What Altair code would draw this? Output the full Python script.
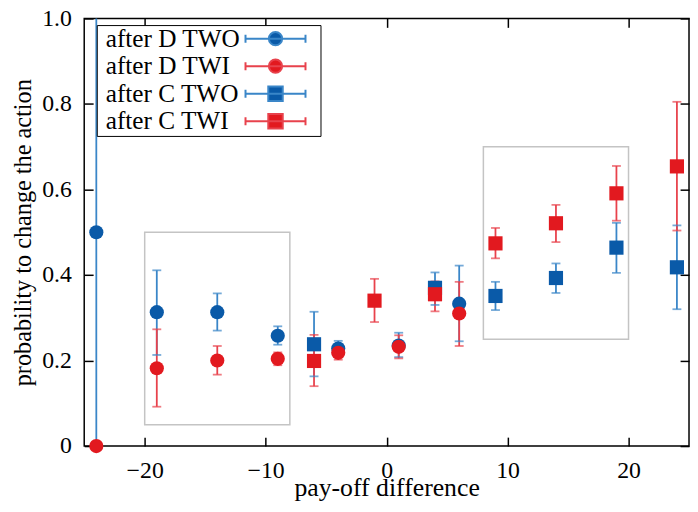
import altair as alt
import pandas as pd

FONT = "Liberation Serif"

series_names = ["after D TWO", "after D TWI", "after C TWO", "after C TWI"]

d_two_x = [-24, -19, -14, -9, -4, 1, 6]
d_two_y = [0.500, 0.313, 0.313, 0.258, 0.228, 0.235, 0.333]
d_two_lo = [0.000, 0.213, 0.270, 0.237, 0.215, 0.208, 0.245]
d_two_hi = [1.000, 0.411, 0.357, 0.280, 0.246, 0.265, 0.422]

d_twi_x = [-24, -19, -14, -9, -4, 1, 6]
d_twi_y = [0.000, 0.182, 0.200, 0.204, 0.218, 0.232, 0.310]
d_twi_lo = [0.000, 0.092, 0.167, 0.189, 0.202, 0.205, 0.234]
d_twi_hi = [0.000, 0.273, 0.234, 0.219, 0.232, 0.259, 0.384]

c_two_x = [-6, 4, 9, 14, 19, 24]
c_two_y = [0.238, 0.370, 0.351, 0.393, 0.464, 0.418]
c_two_lo = [0.163, 0.330, 0.318, 0.358, 0.405, 0.320]
c_two_hi = [0.314, 0.406, 0.384, 0.427, 0.522, 0.516]

c_twi_x = [-6, -1, 4, 9, 14, 19, 24]
c_twi_y = [0.199, 0.340, 0.355, 0.474, 0.521, 0.591, 0.654]
c_twi_lo = [0.140, 0.290, 0.315, 0.439, 0.477, 0.527, 0.504]
c_twi_hi = [0.260, 0.391, 0.385, 0.510, 0.564, 0.655, 0.805]

box_x0 = [-20, 8]
box_x1 = [-8, 20]
box_y0 = [0.05, 0.25]
box_y1 = [0.50, 0.70]

x_ticks = [-20, -10, 0, 10, 20]
y_ticks = [0, 0.2, 0.4, 0.6, 0.8, 1.0]

marker_colors = ["#0a5aa8", "#e2191f", "#0a5aa8", "#e2191f"]
line_colors = ["#3a86c8", "#e8424c", "#3a86c8", "#e8424c"]
marker_shapes = ["circle", "circle", "square", "square"]
# legend key glyphs (error bar + marker), drawn to the right of each label
key_circle = ("M136.5,0H197.1M136.5,-4V4M197.1,-4V4"
              "M160.1,0A6.7,6.7,0,1,0,173.5,0A6.7,6.7,0,1,0,160.1,0ZM207,0")
key_square = ("M136.5,0H197.1M136.5,-4V4M197.1,-4V4"
              "M159.5,-7.3H174.1V7.3H159.5ZM207,0")
legend_shapes = [key_circle, key_circle, key_square, key_square]

W = 611
H = 432

frames = []
for name, xs_, ys_, lo_, hi_ in [
    (series_names[0], d_two_x, d_two_y, d_two_lo, d_two_hi),
    (series_names[1], d_twi_x, d_twi_y, d_twi_lo, d_twi_hi),
    (series_names[2], c_two_x, c_two_y, c_two_lo, c_two_hi),
    (series_names[3], c_twi_x, c_twi_y, c_twi_lo, c_twi_hi),
]:
    frames.append(pd.DataFrame({"series": name, "x": xs_, "y": ys_, "lo": lo_, "hi": hi_}))
pts = pd.concat(frames, ignore_index=True)
boxes_df = pd.DataFrame({"x0": box_x0, "x1": box_x1, "y0": box_y0, "y1": box_y1})

xs = alt.Scale(domain=[-25, 25], nice=False, zero=False)
ys = alt.Scale(domain=[0, 1], nice=False, zero=False)


def tick_axis(orient, values, offset):
    return alt.Axis(orient=orient, values=values, offset=offset, labels=False,
                    domain=False, grid=False, ticks=True, tickSize=9,
                    tickWidth=1.5, tickColor="black", title=None)


axis_x_main = alt.Axis(orient="bottom", values=x_ticks, ticks=False, tickSize=0,
                       domain=False, grid=False, labelFont=FONT, labelFontSize=24,
                       labelColor="black", labelPadding=13, labelFlush=False,
                       labelOverlap=False,
                       title="pay-off difference", titleFont=FONT, titleFontSize=26,
                       titleFontWeight="normal", titleColor="black",
                       titleBaseline="alphabetic", titlePadding=13)
axis_y_main = alt.Axis(orient="left", values=y_ticks, ticks=False, tickSize=0,
                       domain=False, grid=False, labelFont=FONT, labelFontSize=24,
                       labelColor="black", labelPadding=13, labelFlush=False,
                       labelOverlap=False,
                       labelExpr="datum.value == 0 ? '0' : format(datum.value, '.1f')",
                       title="probability to change the action", titleFont=FONT,
                       titleFontSize=24.5, titleFontWeight="normal", titleColor="black",
                       titlePadding=6)

boxes = alt.Chart(boxes_df).mark_rect(fill="transparent", stroke="#c4c4c4", strokeWidth=1.5).encode(
    x=alt.X("x0:Q", scale=xs, axis=axis_x_main),
    x2="x1:Q",
    y=alt.Y("y0:Q", scale=ys, axis=axis_y_main),
    y2="y1:Q",
)

rules = alt.Chart(pts).transform_filter("datum.hi > datum.lo").mark_rule(strokeWidth=1.8).encode(
    x=alt.X("x:Q", scale=xs, axis=tick_axis("top", x_ticks, -H)),
    y=alt.Y("lo:Q", scale=ys, axis=tick_axis("right", y_ticks, -W)),
    y2="hi:Q",
    color=alt.Color("series:N", scale=alt.Scale(domain=series_names, range=line_colors), legend=None),
)

caps = alt.Chart(pts).transform_filter("datum.x > -24").transform_fold(["lo", "hi"], as_=["end", "v"]).mark_tick(
    orient="horizontal", size=9, thickness=1.8).encode(
    x=alt.X("x:Q", scale=xs, axis=tick_axis("bottom", x_ticks, -H)),
    y=alt.Y("v:Q", scale=ys, axis=tick_axis("left", y_ticks, -W)),
    color=alt.Color("series:N", scale=alt.Scale(domain=series_names, range=line_colors), legend=None),
)

points = alt.Chart(pts).mark_point(filled=True, opacity=1, size=205, strokeWidth=0).encode(
    x=alt.X("x:Q", scale=xs, axis=None),
    y=alt.Y("y:Q", scale=ys, axis=None),
    color=alt.Color("series:N", scale=alt.Scale(domain=series_names, range=marker_colors), legend=None),
    shape=alt.Shape("series:N", scale=alt.Scale(domain=series_names, range=marker_shapes), legend=None),
)

legend_layer = alt.Chart(pts).transform_filter("false").mark_point(
    filled=True, opacity=1, size=4, strokeWidth=2).encode(
    x=alt.X("x:Q", scale=xs, axis=None),
    y=alt.Y("y:Q", scale=ys, axis=None),
    color=alt.Color("series:N", scale=alt.Scale(domain=series_names, range=marker_colors),
                    legend=alt.Legend(title=None, orient="none", legendX=12.7, legendY=6.7,
                                      labelFont=FONT, labelFontSize=25.5, labelColor="black",
                                      labelAlign="left", labelLimit=0,
                                      symbolOffset=0, labelOffset={"expr": "-17.5"},
                                      padding=1, rowPadding=0.8,
                                      strokeColor="black", fillColor="white",
                                      symbolStrokeWidth=2, symbolSize=4)),
    stroke=alt.Stroke("series:N", scale=alt.Scale(domain=series_names, range=line_colors)),
    shape=alt.Shape("series:N", scale=alt.Scale(domain=series_names, range=legend_shapes)),
)

chart = alt.layer(boxes, rules, caps, points, legend_layer).resolve_scale(
    color="independent", shape="independent", stroke="independent"
).resolve_axis(x="independent", y="independent").properties(
    width=W, height=H,
    autosize=alt.AutoSizeParams(type="none"),
    padding={"left": 77, "top": 8, "right": 1, "bottom": 56},
).configure_view(stroke="black", strokeWidth=1.5)

chart.save("out.html", embed_options={"renderer": "svg", "actions": False})
